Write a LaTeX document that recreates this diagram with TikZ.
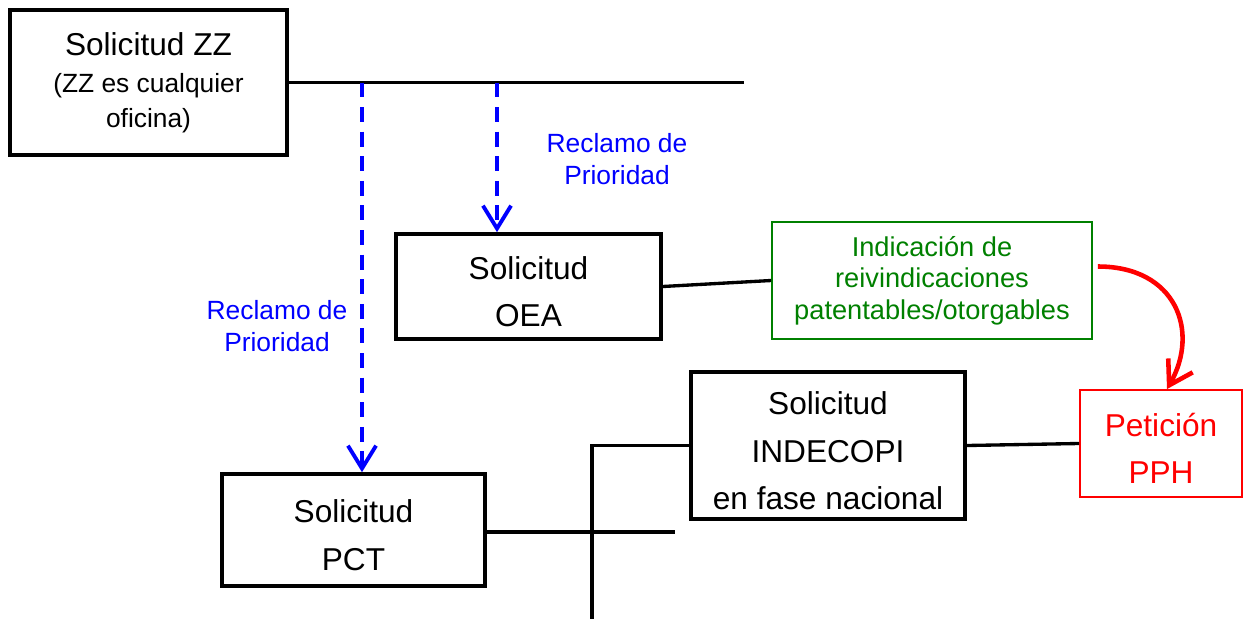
\documentclass[tikz,border=0pt]{standalone}
\usepackage{fontspec}
\setmainfont{Liberation Sans}
\usetikzlibrary{arrows.meta}
\usepackage{xcolor}
\definecolor{reclamo-azul}{RGB}{0,0,255}
\definecolor{indicacion-verde}{RGB}{0,128,0}
\definecolor{pph-rojo}{RGB}{255,0,0}
\newcommand{\bajar}{\rule{0pt}{19pt}}

\begin{document}
\begin{tikzpicture}[x=0.02cm,y=-0.02cm,
    caja/.style={draw,line width=2.1pt,align=center,inner sep=0pt,font=\fontsize{18}{27}\selectfont},
    linea/.style={line width=1.9pt},
    reclamo/.style={color=reclamo-azul,align=center,font=\fontsize{15}{18}\selectfont},
    flecha/.style={draw=reclamo-azul,line width=2.2pt,dash pattern=on 8.5pt off 5.5pt,-{Straight Barb[length=13pt,width=16pt,line width=2.2pt]}}]
    \useasboundingbox (0,0) rectangle (1244,619);
    \node[caja,minimum width=5.54cm,minimum height=2.9cm] (zz) at (148.5,82.5) {Solicitud ZZ\\[-6pt]{\fontsize{15}{18}\selectfont (ZZ es cualquier}\\[-7pt]{\fontsize{15}{18}\selectfont oficina)}};
    \node[caja,minimum width=5.3cm,minimum height=2.1cm] (oea) at (528.5,286.5) {\bajar Solicitud\\OEA};
    \node[caja,draw=indicacion-verde,line width=1.1pt,text=indicacion-verde,font=\fontsize{15.5}{18}\selectfont,minimum width=6.4cm,minimum height=2.34cm] (indicacion) at (932,280.5) {Indicaci\'on de\\reivindicaciones\\patentables/otorgables};
    \node[caja,draw=pph-rojo,line width=1.1pt,text=pph-rojo,minimum width=3.24cm,minimum height=2.14cm] (peticion) at (1161,443.5) {\bajar Petici\'on\\PPH};
    \node[caja,minimum width=5.48cm,minimum height=2.94cm] (indecopi) at (828,445.5) {\bajar Solicitud\\INDECOPI\\en fase nacional};
    \node[caja,minimum width=5.26cm,minimum height=2.24cm] (pct) at (353.5,530) {\bajar Solicitud\\PCT};
    \node[reclamo] (reclamo-oea) at (617,159) {Reclamo de\\Prioridad};
    \node[reclamo] (reclamo-pct) at (277,326) {Reclamo de\\Prioridad};
    \coordinate (fin-zz) at (744,82.5);
    \coordinate (rama-pct) at (362,82.5);
    \coordinate (rama-oea) at (497,82.5);
    \coordinate (fin-pct) at (675,532);
    \coordinate (pie) at (592,619);
    \draw[linea] (zz.east) -- (fin-zz);
    \draw[flecha] (rama-pct) -- (rama-pct |- pct.north);
    \draw[flecha] (rama-oea) -- (rama-oea |- oea.north);
    \draw[linea] (oea.east) -- (indicacion.west);
    \draw[linea] (indecopi.east) -- (peticion.west);
    \draw[linea] (pct.east |- fin-pct) -- (fin-pct);
    \draw[linea] (indecopi.west) -- (indecopi.west -| pie) -- (pie);
    \draw[pph-rojo,line width=2.6pt,-{Straight Barb[length=13pt,width=16pt,line width=2.6pt]}] ([xshift=0.1cm,yshift=0.28cm]indicacion.east) .. controls +(78,0) and +(33,-58) .. ([xshift=0.12cm]peticion.north);
  \end{tikzpicture}
\end{document}
